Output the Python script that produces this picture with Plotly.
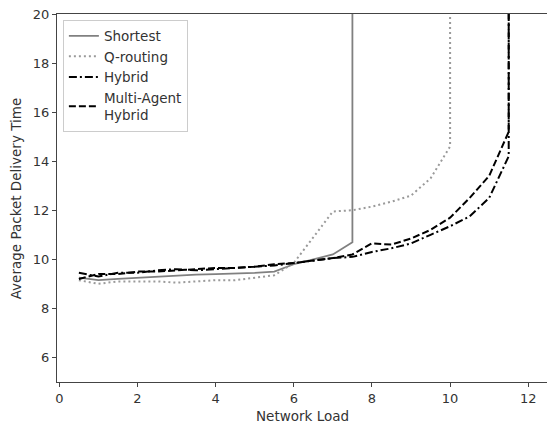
import plotly.graph_objects as go

x_short = [0.5, 1.0, 1.5, 2.0, 2.5, 3.0, 3.5, 4.0, 4.5, 5.0, 5.5, 6.0, 6.5, 7.0, 7.5, 7.5]
y_short = [9.25, 9.15, 9.2, 9.25, 9.3, 9.35, 9.38, 9.4, 9.42, 9.45, 9.5, 9.8, 10.0, 10.2, 10.7, 100]

x_q = [0.5, 1.0, 1.5, 2.0, 2.5, 3.0, 3.5, 4.0, 4.5, 5.0, 5.5, 6.0, 6.5, 7.0, 7.5, 8.0, 8.5, 9.0, 9.5, 10.0, 10.0]
y_q = [9.15, 9.0, 9.1, 9.1, 9.1, 9.05, 9.1, 9.15, 9.15, 9.25, 9.35, 9.85, 10.9, 11.95, 12.0, 12.15, 12.35, 12.6, 13.3, 14.6, 100]

x_hyb = [0.5, 1.0, 1.5, 2.0, 2.5, 3.0, 3.5, 4.0, 4.5, 5.0, 5.5, 6.0, 6.5, 7.0, 7.5, 8.0, 8.5, 9.0, 9.5, 10.0, 10.5, 11.0, 11.5, 11.5]
y_hyb = [9.45, 9.3, 9.45, 9.45, 9.55, 9.6, 9.55, 9.6, 9.65, 9.7, 9.75, 9.85, 9.95, 10.05, 10.1, 10.3, 10.45, 10.65, 11.0, 11.35, 11.75, 12.5, 14.2, 100]

x_ma = [0.5, 1.0, 1.5, 2.0, 2.5, 3.0, 3.5, 4.0, 4.5, 5.0, 5.5, 6.0, 6.5, 7.0, 7.5, 8.0, 8.5, 9.0, 9.5, 10.0, 10.5, 11.0, 11.5, 11.5]
y_ma = [9.2, 9.4, 9.4, 9.5, 9.5, 9.55, 9.6, 9.65, 9.65, 9.7, 9.8, 9.85, 9.95, 10.05, 10.2, 10.65, 10.6, 10.85, 11.2, 11.7, 12.5, 13.4, 15.2, 100]

x_ticks = [0, 2, 4, 6, 8, 10, 12]
y_ticks = [6, 8, 10, 12, 14, 16, 18, 20]

FONT = "DejaVu Sans"

fig = go.Figure()
fig.add_trace(go.Scatter(x=x_short, y=y_short, mode="lines", name="Shortest",
                         line=dict(color="#808080", width=1.8)))
fig.add_trace(go.Scatter(x=x_q, y=y_q, mode="lines", name="Q-routing",
                         line=dict(color="#9a9a9a", width=2, dash="2px,3px")))
fig.add_trace(go.Scatter(x=x_hyb, y=y_hyb, mode="lines", name="Hybrid",
                         line=dict(color="black", width=2, dash="8px,3px,2px,3px")))
fig.add_trace(go.Scatter(x=x_ma, y=y_ma, mode="lines", name="Multi-Agent<br>Hybrid",
                         line=dict(color="black", width=2, dash="7px,3px")))

axis_common = dict(
    showgrid=False, zeroline=False, showline=True, linecolor="#444", linewidth=1.2,
    ticks="outside", ticklen=4, tickwidth=1, tickcolor="#444", automargin=False,
    tickfont=dict(family=FONT, size=13, color="#333"),
)

fig.update_layout(
    width=547, height=423,
    margin=dict(l=57, r=0, t=14, b=41, autoexpand=False),
    plot_bgcolor="white", paper_bgcolor="white",
    font=dict(family=FONT, size=13, color="#333"),
    xaxis=dict(range=[-0.06, 12.48], tickvals=x_ticks, mirror=True, **axis_common),
    yaxis=dict(range=[5, 20], tickvals=y_ticks, mirror=False, **axis_common),
    legend=dict(x=0.012, y=0.985, xanchor="left", yanchor="top",
                bgcolor="rgba(255,255,255,0.85)", bordercolor="#ccc", borderwidth=1,
                font=dict(family=FONT, size=13.5, color="#333"),
                tracegroupgap=0, itemwidth=30),
    showlegend=True,
    annotations=[
        dict(text="Network Load", xref="paper", yref="paper", x=0.5, y=-0.092,
             xanchor="center", yanchor="middle", showarrow=False,
             font=dict(family=FONT, size=13.5, color="#333")),
        dict(text="Average Packet Delivery Time", xref="paper", yref="paper", x=-0.083, y=0.5,
             xanchor="center", yanchor="middle", textangle=-90, showarrow=False,
             font=dict(family=FONT, size=13.5, color="#333")),
    ],
)

fig.write_html("out.html", config={"displayModeBar": False},
               post_script="document.body.style.margin='0';document.body.style.overflow='hidden';")
